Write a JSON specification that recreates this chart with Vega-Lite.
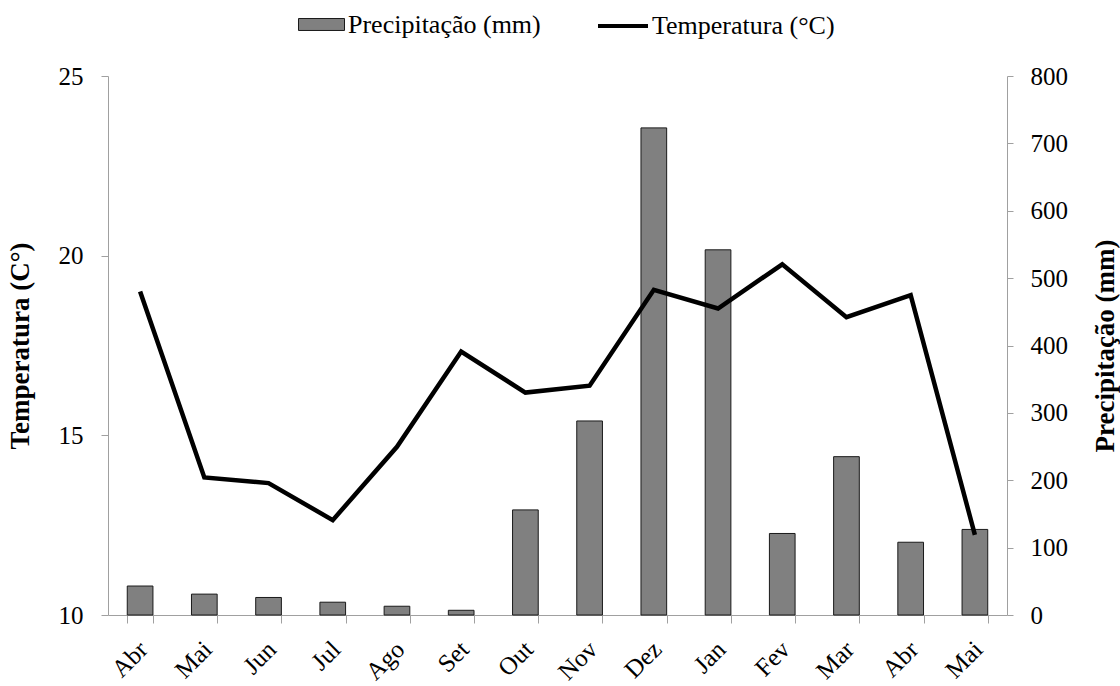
{
  "$schema": "https://vega.github.io/schema/vega-lite/v6.json",
  "width": 899,
  "height": 539,
  "autosize": {"type": "none"},
  "padding": {"left": 108, "top": 76, "right": 113, "bottom": 71},
  "background": "white",
  "config": {
    "view": {"stroke": null},
    "font": "Liberation Serif",
    "axis": {
      "grid": false,
      "domainColor": "#a0a0a0",
      "tickColor": "#a0a0a0",
      "tickSize": 7,
      "labelFont": "Liberation Serif",
      "labelFontSize": 25,
      "labelColor": "black",
      "titleFont": "Liberation Serif",
      "titleFontSize": 27,
      "titleFontWeight": "bold",
      "titleColor": "black"
    },
    "legend": {
      "labelFont": "Liberation Serif",
      "labelFontSize": 26,
      "labelColor": "black",
      "labelLimit": 0,
      "padding": 0
    }
  },
  "data": {
    "values": [
      {"mes": "Abr-1", "temp": 19.0, "prec": 43},
      {"mes": "Mai-1", "temp": 13.83, "prec": 31},
      {"mes": "Jun", "temp": 13.67, "prec": 26},
      {"mes": "Jul", "temp": 12.64, "prec": 19},
      {"mes": "Ago", "temp": 14.68, "prec": 13},
      {"mes": "Set", "temp": 17.33, "prec": 7},
      {"mes": "Out", "temp": 16.19, "prec": 156},
      {"mes": "Nov", "temp": 16.38, "prec": 288},
      {"mes": "Dez", "temp": 19.05, "prec": 723},
      {"mes": "Jan", "temp": 18.53, "prec": 542},
      {"mes": "Fev", "temp": 19.76, "prec": 121},
      {"mes": "Mar", "temp": 18.29, "prec": 235},
      {"mes": "Abr-2", "temp": 18.9, "prec": 108},
      {"mes": "Mai-2", "temp": 12.23, "prec": 127}
    ]
  },
  "encoding": {
    "x": {
      "field": "mes",
      "type": "ordinal",
      "sort": null,
      "scale": {"paddingInner": 0.6, "paddingOuter": 0.3},
      "axis": {
        "title": null,
        "tickSize": 8,
        "tickBand": "extent",
        "labelAngle": -45,
        "labelAlign": "right",
        "labelBaseline": "middle",
        "labelPadding": 22,
        "labelOffset": 3,
        "labelExpr": "split(datum.label, '-')[0]"
      }
    }
  },
  "layer": [
    {
      "mark": {"type": "bar", "fill": "#808080", "stroke": "#1a1a1a", "strokeWidth": 1},
      "encoding": {
        "y": {
          "field": "prec",
          "type": "quantitative",
          "scale": {"domain": [0, 800], "nice": false},
          "axis": {
            "orient": "right",
            "values": [0, 100, 200, 300, 400, 500, 600, 700, 800],
            "tickSize": 6,
            "labelPadding": 17,
            "title": "Precipitação (mm)",
            "titleX": 98,
            "titleY": 269.5,
            "titleAngle": -90,
            "titleAlign": "center",
            "titleBaseline": "middle"
          }
        },
        "fill": {
          "datum": "Precipitação (mm)",
          "scale": {"range": ["#808080"]},
          "legend": {
            "title": null,
            "orient": "none",
            "legendX": 190,
            "legendY": -75,
            "symbolType": "M-1,-0.26H1V0.26H-1Z",
            "symbolSize": 2116,
            "symbolFillColor": "#808080",
            "symbolStrokeColor": "#1a1a1a",
            "symbolStrokeWidth": 1,
            "labelOffset": 3
          }
        }
      }
    },
    {
      "mark": {"type": "line", "color": "black", "strokeWidth": 4.5},
      "encoding": {
        "y": {
          "field": "temp",
          "type": "quantitative",
          "scale": {"domain": [10, 25], "nice": false, "zero": false},
          "axis": {
            "orient": "left",
            "values": [10, 15, 20, 25],
            "labelPadding": 18,
            "title": "Temperatura (C°)",
            "titleX": -88,
            "titleY": 269.5,
            "titleAngle": -90,
            "titleAlign": "center",
            "titleBaseline": "middle"
          }
        },
        "stroke": {
          "datum": "Temperatura (°C)",
          "scale": {"range": ["black"]},
          "legend": {
            "title": null,
            "orient": "none",
            "legendX": 488,
            "legendY": -77,
            "symbolType": "stroke",
            "symbolSize": 2500,
            "symbolStrokeWidth": 4,
            "symbolStrokeColor": "black",
            "labelOffset": 2
          }
        }
      }
    }
  ],
  "resolve": {"scale": {"y": "independent"}}
}
